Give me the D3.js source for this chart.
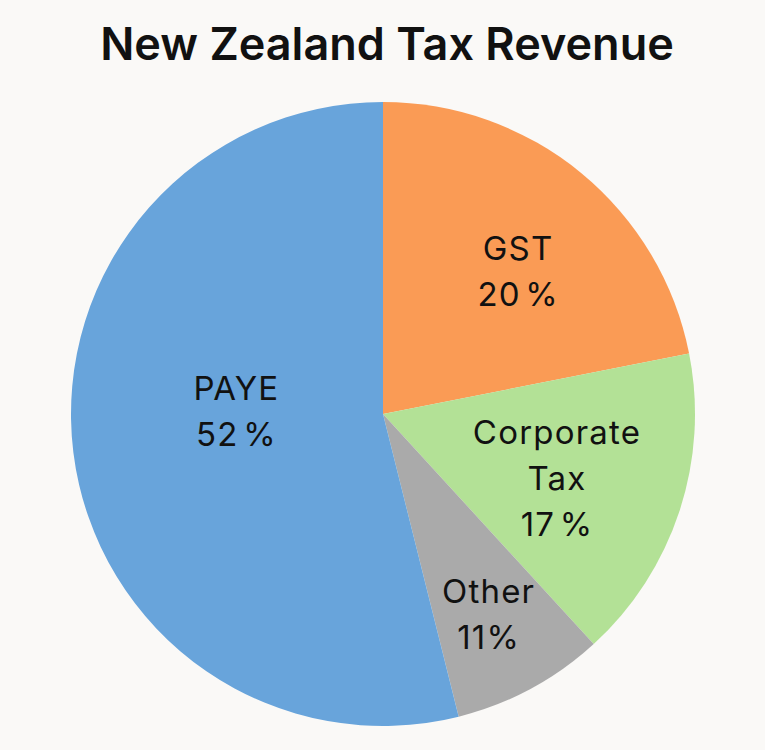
<!DOCTYPE html>
<html><head><meta charset="utf-8">
<script src="https://cdn.jsdelivr.net/npm/d3@7"></script>
<style>html,body{margin:0;padding:0;background:#faf9f7;}</style>
</head><body>
<svg id="chart" width="765" height="750"></svg>
<script>
const title = "New Zealand Tax Revenue";
const categories = ["GST", "Corporate Tax", "Other", "PAYE"];
// slice shares as drawn (measured from slice angles)
const sliceValues = [21.9, 16.3, 7.9, 53.9];
// printed labels
const labelLines = [["GST", "20 %"], ["Corporate", "Tax", "17 %"], ["Other", "11%"], ["PAYE", "52 %"]];
const colors = ["#fa9b55", "#b3e196", "#aaaaaa", "#68a4db"];
const labelRadiusFrac = [0.63, 0.595, 0.727, 0.47];
const labelAngleOffsetDeg = [4.0, 2.2, 0.5, 8.2];

const W = 765, H = 750, cx = 383, cy = 414, R = 312;
const svg = d3.select("#chart");
svg.append("rect").attr("width", W).attr("height", H).attr("fill", "#faf9f7");
svg.append("text").attr("x", 387).attr("y", 60).attr("text-anchor", "middle")
  .attr("font-family", "Inter, 'Liberation Sans', sans-serif").attr("font-weight", 600)
  .attr("font-size", 45).attr("fill", "#111").text(title);

const pie = d3.pie().sort(null).value(d => d)(sliceValues);
const arc = d3.arc().innerRadius(0).outerRadius(R);
const g = svg.append("g").attr("transform", `translate(${cx},${cy})`);
g.selectAll("path").data(pie).join("path").attr("d", arc).attr("fill", (d, i) => colors[i]);

pie.forEach((d, i) => {
  const a = (d.startAngle + d.endAngle) / 2 + labelAngleOffsetDeg[i] * Math.PI / 180;
  const r = R * labelRadiusFrac[i];
  const x = Math.sin(a) * r, y = -Math.cos(a) * r;
  const lines = labelLines[i];
  const lh = 46;
  const t = g.append("text").attr("text-anchor", "middle")
    .attr("font-family", "Inter, 'Liberation Sans', sans-serif").attr("font-size", 33)
    .attr("letter-spacing", 1.2).attr("word-spacing", -6).attr("fill", "#111");
  lines.forEach((l, j) => {
    t.append("tspan").attr("x", x).attr("y", y + (j - (lines.length - 1) / 2) * lh).attr("dy", "0.35em").text(l);
  });
});
</script>
</body></html>
